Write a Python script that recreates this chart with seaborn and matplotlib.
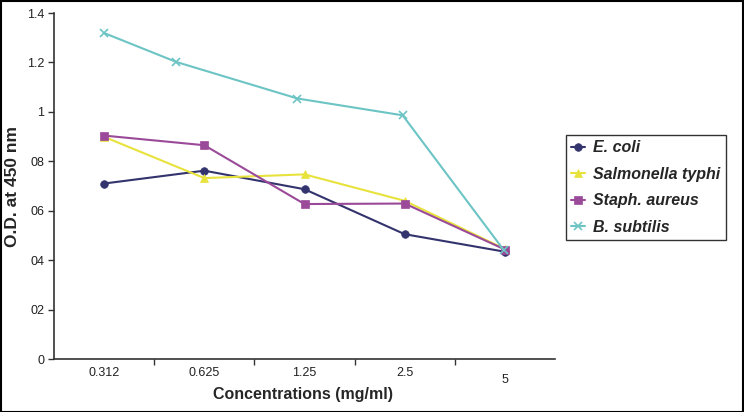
import matplotlib
matplotlib.use("Agg")
import matplotlib.pyplot as plt
import seaborn as sns
import pandas as pd
from matplotlib.patches import Rectangle

concentrations = ["0.312", "0.625", "1.25", "2.5", "5"]
series_names = ["E. coli", "Salmonella typhi", "Staph. aureus", "B. subtilis"]
e_coli = [0.71, 0.762, 0.687, 0.505, 0.434]
salmonella = [0.899, 0.732, 0.747, 0.640, 0.445]
staph = [0.904, 0.865, 0.627, 0.629, 0.443]
b_subtilis = [1.319, 1.202, 1.054, 0.986, 0.44]
# B. subtilis points sit slightly off the category centres in the original
b_subtilis_x = [0.0, 0.72, 1.93, 2.98, 3.99]
y_tick_values = [0, 0.2, 0.4, 0.6, 0.8, 1.0, 1.2, 1.4]
y_tick_labels = ["0", "02", "04", "06", "08", "1", "1.2", "1.4"]

rows = []
for name, vals in zip(series_names, [e_coli, salmonella, staph, b_subtilis]):
    xs = b_subtilis_x if name == "B. subtilis" else list(range(len(concentrations)))
    for x, v in zip(xs, vals):
        rows.append({"x": x, "od": v, "series": name})
df = pd.DataFrame(rows)

sns.set_theme(style="white")
plt.rcParams["font.family"] = ["Liberation Sans", "DejaVu Sans"]

fig = plt.figure(figsize=(7.44, 4.12), dpi=100)
ax = fig.add_axes([54/744, 53/412, 501/744, 346/412])

palette = {"E. coli": "#33336e", "Salmonella typhi": "#e8e23c",
           "Staph. aureus": "#9a4a98", "B. subtilis": "#6cc4c4"}
markers = {"E. coli": "o", "Salmonella typhi": "^",
           "Staph. aureus": "s", "B. subtilis": "x"}
sizes = {"E. coli": 5.5, "Salmonella typhi": 6, "Staph. aureus": 6, "B. subtilis": 6}

for name in series_names:
    sub = df[df.series == name]
    sns.lineplot(data=sub, x="x", y="od", ax=ax, color=palette[name],
                 marker=markers[name], markersize=sizes[name],
                 markeredgecolor=palette[name], markeredgewidth=1.2 if name == "B. subtilis" else 0.5,
                 linewidth=1.5, label=name, sort=False, estimator=None)

ax.set_xlim(-0.5, 4.5)
ax.set_ylim(0, 1.4)
ax.set_yticks(y_tick_values)
ax.set_yticklabels(y_tick_labels, fontsize=9, color="#222222")
ax.set_xticks([0.5, 1.5, 2.5, 3.5])
ax.set_xticklabels([])
ax.set_xticks(range(len(concentrations)), minor=True)
ax.set_xticklabels(concentrations, minor=True, fontsize=9, color="#222222")
ax.tick_params(axis="x", which="major", direction="out", length=4, width=1, color="#333333", bottom=True)
ax.tick_params(axis="x", which="minor", length=0, pad=6, bottom=True)
ax.tick_params(axis="y", direction="out", length=4, width=1, color="#333333", left=True, pad=3)
ax.xaxis.get_minor_ticks()[4].set_pad(11)

for s in ["top", "right"]:
    ax.spines[s].set_visible(False)
for s in ["left", "bottom"]:
    ax.spines[s].set_color("#333333")
    ax.spines[s].set_linewidth(1.2)

ax.set_xlabel("Concentrations (mg/ml)", fontsize=11.5, fontweight="bold", va="center")
ax.xaxis.set_label_coords(0.497, -0.104)
ax.set_ylabel("O.D. at 450 nm", fontsize=12.5, fontweight="bold", va="center")
ax.yaxis.set_label_coords(-0.082, 0.5)

leg = ax.legend(loc="upper left", bbox_to_anchor=(566/744, 1 - 135/412),
                bbox_transform=fig.transFigure, frameon=True, fancybox=False,
                handlelength=0.9, handletextpad=0.5, labelspacing=0.72,
                borderpad=0.32, borderaxespad=0,
                prop={"weight": "bold", "style": "italic", "size": 11.5})
leg.get_frame().set_edgecolor("black")
leg.get_frame().set_linewidth(1.0)

fig.patches.append(Rectangle((0.001, 0.001), 0.997, 0.997, transform=fig.transFigure,
                             fill=False, edgecolor="black", linewidth=1.5))

fig.savefig("out.png", dpi=100)
